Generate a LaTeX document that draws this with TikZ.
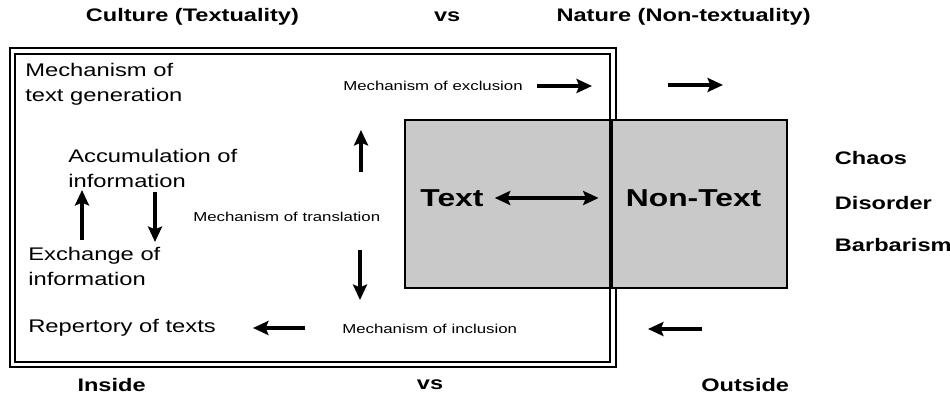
\documentclass[tikz,border=0pt]{standalone}
\usepackage{fontspec}
\setmainfont[FakeStretch=1.3]{Liberation Sans}
\usetikzlibrary{arrows.meta, positioning}

\begin{document}
\begin{tikzpicture}[
    title/.style={font=\fontsize{12.9}{15}\selectfont\bfseries},
    lbl/.style={font=\fontsize{13}{17.8}\selectfont, align=left, anchor=west, inner sep=0pt},
    mech/.style={font=\fontsize{9.2}{11}\selectfont, anchor=west, inner sep=0pt},
    big/.style={font=\fontsize{17.4}{20}\selectfont\bfseries, inner sep=0pt},
    arrow/.style={-{Stealth[length=11pt,width=10pt,inset=2pt]}, line width=2.8pt},
    zone/.style={draw=black, line width=2pt, fill=gray!42}
]
\useasboundingbox (0,0) rectangle (23.75,9.9);

% Frame (culture)
\draw[line width=0.8pt] (0.25,0.725) rectangle (15.4,8.7);
\draw[line width=1.6pt] (0.375,0.85) rectangle (15.25,8.55);

% Text / Non-Text zone
\draw[zone] (10.125,2.7) rectangle (19.675,6.9);
\draw[line width=3pt] (15.28,2.7) -- (15.28,6.9);

% Headings
\node[title] (cult) at (4.81,9.475) {Culture (Textuality)};
\node[title] (vs1) at (11.18,9.475) {vs};
\node[title] (nat) at (17.09,9.475) {Nature (Non-textuality)};
\node[title] (ins) at (2.79,0.275) {Inside};
\node[title] (vs2) at (10.75,0.275) {vs};
\node[title] (outs) at (18.63,0.275) {Outside};

% Inside labels
\node[lbl] (gen) at (0.625,7.79) {Mechanism of\\text generation};
\node[lbl] (accu) at (1.7,5.69) {Accumulation of\\information};
\node[lbl] (exch) at (0.7,3.25) {Exchange of\\information};
\node[lbl] (rep) at (0.7,1.7) {Repertory of texts};

\node[mech] (excl) at (8.575,7.75) {Mechanism of exclusion};
\node[mech] (transl) at (4.825,4.475) {Mechanism of translation};
\node[mech] (incl) at (8.55,1.675) {Mechanism of inclusion};

% Text and Non-Text
\node[big] (txt) at (11.3,4.95) {Text};
\node[big] (ntxt) at (17.34,4.95) {Non-Text};
\draw[arrow, {Stealth[length=11pt,width=10pt,inset=2pt]}-{Stealth[length=11pt,width=10pt,inset=2pt]}, shorten <=0.275cm, shorten >=0.675cm] (txt) -- (ntxt);

% Outside labels
\node[title, anchor=west] (chaos) at (20.75,5.95) {Chaos};
\node[title, anchor=west] (disord) at (20.75,4.825) {Disorder};
\node[title, anchor=west] (barb) at (20.75,3.775) {Barbarism};

% Arrow ends
\coordinate (exA) at (13.425,7.75);
\coordinate (exB) at (14.8,7.75);
\coordinate (ouA) at (16.7,7.775);
\coordinate (ouB) at (18.075,7.775);
\coordinate (upA) at (9.025,5.6);
\coordinate (upB) at (9.025,6.65);
\coordinate (dnA) at (9.0,3.65);
\coordinate (dnB) at (9.0,2.4);
\coordinate (luA) at (2.05,3.9);
\coordinate (luB) at (2.05,5.15);
\coordinate (ldA) at (3.875,5.1);
\coordinate (ldB) at (3.875,3.85);
\coordinate (inA) at (7.625,1.7);
\coordinate (inB) at (6.325,1.7);
\coordinate (oiA) at (17.55,1.675);
\coordinate (oiB) at (16.2,1.675);

% Arrows
\draw[arrow] (exA) -- (exB);
\draw[arrow] (ouA) -- (ouB);
\draw[arrow] (upA) -- (upB);
\draw[arrow] (dnA) -- (dnB);
\draw[arrow] (luA) -- (luB);
\draw[arrow] (ldA) -- (ldB);
\draw[arrow] (inA) -- (inB);
\draw[arrow] (oiA) -- (oiB);

\end{tikzpicture}
\end{document}
